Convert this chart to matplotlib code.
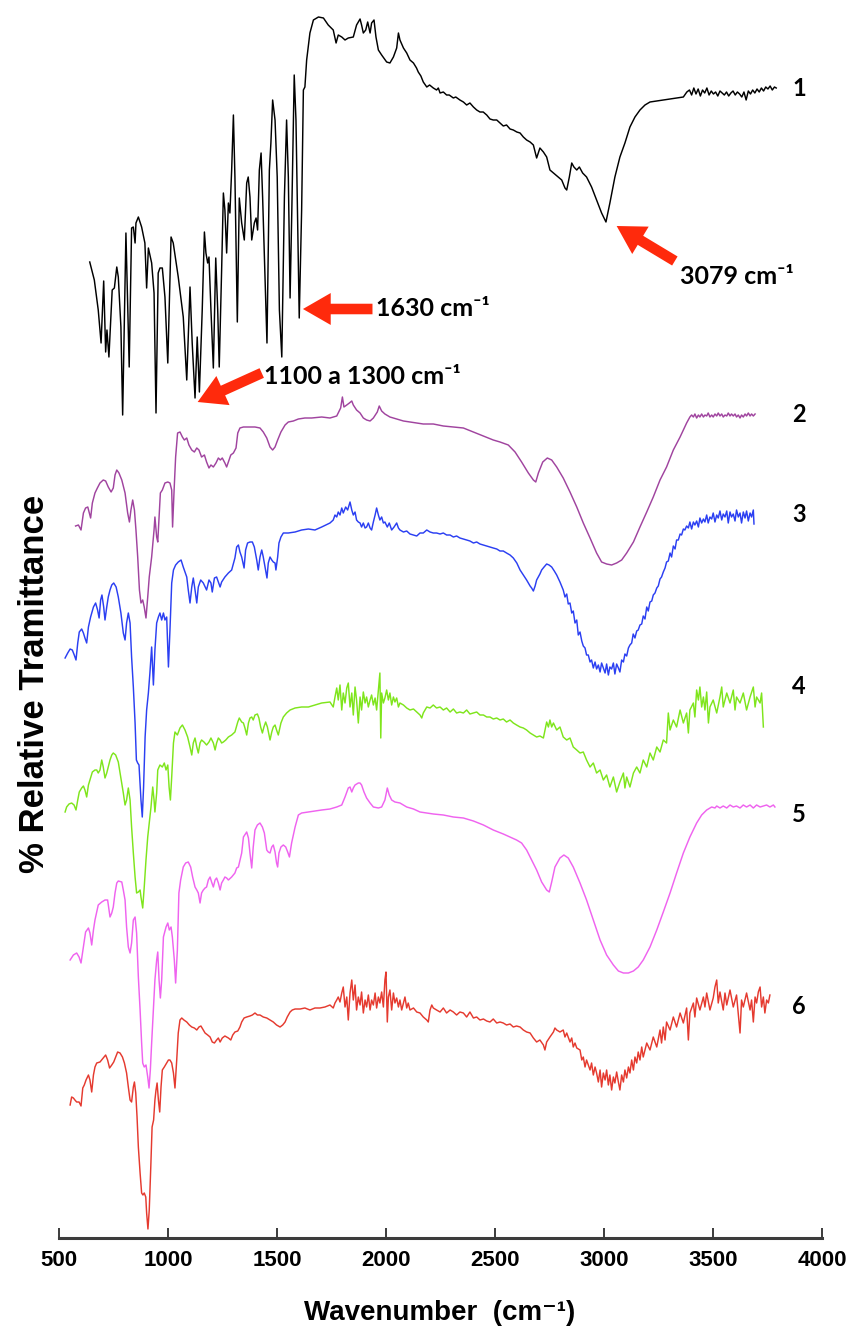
import matplotlib
matplotlib.use("Agg")
import matplotlib.pyplot as plt
from matplotlib.patches import FancyArrowPatch

plt.rcParams['font.family'] = ['Liberation Sans', 'DejaVu Sans']

# ---------------------------------------------------------------- data
x_ticks = [500, 1000, 1500, 2000, 2500, 3000, 3500, 4000]
x_tick_labels = ['500', '1000', '1500', '2000', '2500', '3000', '3500', '4000']
sample_names = ['1', '2', '3', '4', '5', '6']
line_colors = ['#000000', '#a0449f', '#2b3ff2', '#7fe51c', '#ef63ef', '#e53a2f']

# (wavenumber cm-1, stacked relative transmittance, arbitrary units)
spec_1 = [
    (641, 976), (662, 958), (680, 928), (693, 895), (705, 957), (714, 886), (720, 908), (729, 881),
    (744, 948), (754, 950), (765, 971), (772, 961), (784, 911), (792, 823), (807, 1005), (822, 871),
    (833, 1010), (841, 1011), (849, 995), (853, 1015), (864, 1021), (879, 1011), (894, 995), (902, 950),
    (910, 990), (925, 975), (936, 945), (945, 825), (955, 965), (963, 970), (974, 970), (986, 941),
    (999, 875), (1014, 1001), (1024, 995), (1047, 961), (1070, 921), (1086, 858), (1101, 951), (1111, 895),
    (1124, 840), (1134, 901), (1144, 846), (1157, 928), (1167, 1006), (1174, 985), (1182, 975), (1188, 981),
    (1197, 928), (1208, 870), (1219, 980), (1228, 928), (1235, 871), (1246, 968), (1254, 1045), (1261, 1028),
    (1269, 985), (1277, 1035), (1284, 1025), (1292, 1068), (1300, 1123), (1307, 1061), (1318, 916), (1327, 1040),
    (1338, 1015), (1350, 998), (1361, 1055), (1368, 1061), (1376, 1041), (1384, 998), (1396, 1015), (1404, 1020),
    (1411, 1008), (1419, 1068), (1427, 1085), (1434, 1041), (1445, 961), (1454, 895), (1465, 1068), (1472, 1095),
    (1480, 1138), (1491, 1118), (1501, 1061), (1511, 928), (1522, 881), (1534, 1041), (1544, 1118), (1552, 1061),
    (1560, 940), (1568, 1028), (1579, 1163), (1587, 1118), (1595, 1011), (1602, 920), (1613, 1028), (1621, 1148),
    (1628, 1151), (1636, 1178), (1651, 1205), (1667, 1218), (1690, 1221), (1713, 1220), (1735, 1213), (1758, 1208),
    (1771, 1195), (1781, 1203), (1797, 1201), (1812, 1198), (1827, 1200), (1850, 1201), (1865, 1213), (1881, 1219),
    (1888, 1213), (1896, 1205), (1907, 1208), (1916, 1216), (1927, 1205), (1934, 1215), (1945, 1218), (1954, 1201),
    (1965, 1188), (1980, 1183), (2003, 1176), (2018, 1175), (2034, 1181), (2049, 1190), (2057, 1205), (2064, 1198),
    (2080, 1190), (2095, 1185), (2110, 1178), (2126, 1175), (2140, 1170), (2148, 1166), (2160, 1162), (2171, 1156),
    (2187, 1151), (2200, 1153), (2217, 1150), (2232, 1148), (2240, 1150), (2248, 1145), (2263, 1146), (2278, 1143),
    (2290, 1143), (2309, 1140), (2320, 1141), (2339, 1138), (2355, 1136), (2370, 1133), (2385, 1135), (2401, 1131),
    (2416, 1128), (2431, 1126), (2446, 1126), (2462, 1123), (2477, 1119), (2492, 1118), (2508, 1118), (2523, 1115),
    (2538, 1112), (2553, 1113), (2569, 1109), (2584, 1108), (2600, 1106), (2615, 1105), (2630, 1101), (2645, 1098),
    (2661, 1096), (2676, 1093), (2691, 1080), (2706, 1090), (2722, 1086), (2737, 1081), (2752, 1068), (2768, 1065),
    (2790, 1061), (2806, 1058), (2821, 1050), (2829, 1048), (2841, 1061), (2852, 1075), (2862, 1071), (2875, 1068),
    (2887, 1071), (2902, 1065), (2920, 1061), (2943, 1051), (2966, 1038), (2989, 1025), (3009, 1016), (3027, 1035),
    (3050, 1061), (3073, 1081), (3096, 1095), (3119, 1111), (3142, 1121), (3165, 1128), (3188, 1133), (3211, 1136),
    (3241, 1137), (3272, 1138), (3303, 1139), (3333, 1140), (3364, 1141), (3380, 1146), (3392, 1148), (3402, 1143),
    (3412, 1150), (3422, 1144), (3432, 1149), (3442, 1142), (3452, 1148), (3462, 1145), (3472, 1150), (3482, 1143),
    (3492, 1147), (3502, 1144), (3512, 1146), (3522, 1142), (3532, 1147), (3542, 1145), (3552, 1143), (3562, 1146),
    (3572, 1142), (3582, 1145), (3592, 1147), (3602, 1143), (3612, 1146), (3622, 1144), (3632, 1141), (3642, 1146),
    (3652, 1138), (3662, 1147), (3672, 1144), (3682, 1148), (3692, 1145), (3702, 1149), (3712, 1146), (3722, 1150),
    (3732, 1147), (3742, 1151), (3752, 1149), (3762, 1152), (3772, 1148), (3782, 1151), (3790, 1150),
]

spec_2 = [
    (576, 712), (589, 713), (601, 708), (612, 725), (622, 730), (632, 731), (639, 725), (645, 720),
    (653, 735), (665, 745), (676, 750), (688, 755), (703, 758), (714, 757), (726, 751), (739, 746),
    (749, 750), (757, 763), (765, 768), (775, 765), (788, 758), (803, 745), (815, 725), (823, 716),
    (830, 728), (838, 738), (846, 728), (853, 708), (861, 681), (869, 648), (876, 635), (884, 638),
    (891, 631), (899, 620), (907, 641), (914, 661), (925, 681), (936, 708), (940, 721), (948, 701),
    (953, 696), (959, 721), (965, 745), (974, 748), (986, 755), (999, 756), (1009, 755), (1017, 748),
    (1021, 711), (1028, 748), (1035, 781), (1044, 805), (1055, 806), (1066, 801), (1075, 798), (1086, 800),
    (1096, 793), (1109, 788), (1121, 786), (1132, 790), (1142, 788), (1154, 781), (1167, 783), (1177, 776),
    (1188, 770), (1197, 773), (1208, 771), (1220, 775), (1231, 780), (1240, 778), (1249, 780), (1261, 775),
    (1269, 771), (1277, 776), (1288, 783), (1300, 785), (1312, 790), (1320, 805), (1330, 810), (1346, 811),
    (1369, 811), (1399, 811), (1422, 810), (1437, 806), (1453, 800), (1468, 791), (1480, 788), (1491, 791),
    (1503, 798), (1518, 806), (1537, 813), (1552, 816), (1575, 817), (1598, 819), (1628, 820), (1659, 820),
    (1705, 821), (1743, 820), (1774, 822), (1792, 830), (1800, 841), (1807, 831), (1820, 833), (1832, 835),
    (1843, 837), (1850, 833), (1865, 828), (1881, 825), (1896, 820), (1911, 818), (1927, 817), (1942, 820),
    (1960, 826), (1969, 832), (1980, 827), (1995, 824), (2018, 821), (2049, 819), (2080, 817), (2110, 816),
    (2141, 815), (2171, 814), (2217, 814), (2263, 812), (2309, 811), (2355, 810), (2401, 806), (2447, 802),
    (2492, 798), (2523, 796), (2561, 793), (2592, 786), (2622, 776), (2653, 765), (2676, 758), (2687, 756),
    (2699, 765), (2719, 776), (2740, 780), (2760, 778), (2783, 771), (2813, 760), (2844, 746), (2875, 731),
    (2905, 715), (2936, 700), (2966, 685), (2989, 676), (3012, 674), (3035, 673), (3058, 675), (3081, 678),
    (3104, 685), (3135, 696), (3165, 711), (3196, 726), (3226, 741), (3257, 758), (3287, 771), (3318, 788),
    (3349, 801), (3379, 815), (3394, 821), (3402, 823), (3410, 821), (3417, 824), (3425, 820), (3433, 823),
    (3440, 821), (3448, 824), (3456, 821), (3463, 823), (3471, 822), (3478, 825), (3486, 821), (3494, 823),
    (3501, 821), (3509, 824), (3517, 822), (3524, 825), (3532, 822), (3540, 824), (3547, 821), (3555, 823),
    (3563, 822), (3570, 825), (3578, 822), (3585, 824), (3593, 822), (3601, 824), (3608, 821), (3616, 823),
    (3624, 820), (3631, 823), (3639, 821), (3647, 824), (3654, 822), (3662, 825), (3670, 822), (3677, 824),
    (3685, 822), (3693, 824),
]

spec_3 = [
    (528, 580), (540, 585), (551, 589), (561, 588), (570, 583), (578, 578), (586, 595), (593, 606),
    (604, 609), (612, 605), (619, 600), (627, 595), (635, 611), (645, 621), (658, 631), (668, 635),
    (677, 628), (684, 620), (691, 638), (697, 643), (705, 631), (711, 618), (719, 631), (726, 641),
    (734, 648), (742, 653), (751, 655), (762, 651), (772, 641), (784, 625), (795, 605), (803, 598),
    (810, 615), (818, 625), (826, 615), (833, 581), (841, 551), (849, 515), (855, 478), (861, 475),
    (867, 473), (876, 438), (882, 421), (888, 451), (895, 501), (902, 528), (910, 545), (917, 565),
    (925, 591), (933, 553), (940, 588), (948, 615), (956, 621), (963, 625), (971, 618), (979, 625),
    (986, 618), (994, 621), (1002, 571), (1009, 608), (1017, 655), (1025, 668), (1035, 673), (1047, 676),
    (1060, 678), (1070, 671), (1078, 666), (1086, 661), (1093, 648), (1101, 635), (1109, 651), (1116, 660),
    (1124, 648), (1132, 635), (1139, 651), (1150, 658), (1162, 655), (1177, 648), (1188, 658), (1197, 655),
    (1203, 646), (1213, 660), (1223, 661), (1231, 656), (1239, 651), (1246, 656), (1261, 661), (1277, 665),
    (1292, 668), (1307, 680), (1315, 691), (1323, 693), (1330, 686), (1338, 681), (1349, 670), (1356, 688),
    (1365, 695), (1376, 696), (1387, 696), (1396, 691), (1407, 678), (1414, 668), (1422, 681), (1430, 688),
    (1437, 681), (1445, 671), (1454, 660), (1460, 675), (1468, 681), (1476, 678), (1483, 676), (1491, 675),
    (1495, 668), (1503, 681), (1509, 695), (1518, 701), (1529, 705), (1552, 705), (1583, 706), (1613, 708),
    (1644, 709), (1674, 708), (1705, 711), (1743, 715), (1758, 718), (1766, 723), (1774, 721), (1781, 726),
    (1789, 723), (1797, 730), (1804, 725), (1815, 731), (1824, 728), (1835, 736), (1843, 728), (1850, 723),
    (1858, 726), (1865, 718), (1873, 716), (1881, 715), (1888, 711), (1896, 715), (1904, 710), (1911, 711),
    (1919, 715), (1927, 710), (1934, 708), (1942, 716), (1950, 723), (1957, 730), (1965, 723), (1972, 718),
    (1980, 721), (1988, 715), (1995, 716), (2006, 711), (2015, 715), (2026, 708), (2037, 711), (2049, 715),
    (2057, 710), (2064, 708), (2080, 706), (2095, 707), (2110, 704), (2126, 703), (2141, 702), (2156, 705),
    (2171, 705), (2187, 708), (2202, 706), (2217, 705), (2232, 705), (2248, 704), (2263, 705), (2278, 703),
    (2294, 703), (2309, 701), (2324, 702), (2339, 700), (2355, 699), (2370, 698), (2385, 697), (2401, 695),
    (2416, 696), (2431, 694), (2446, 693), (2462, 692), (2477, 691), (2492, 690), (2508, 689), (2523, 687),
    (2538, 687), (2553, 685), (2569, 683), (2584, 680), (2600, 675), (2615, 668), (2630, 663), (2645, 658),
    (2661, 652), (2668, 650), (2676, 647), (2684, 652), (2691, 658), (2706, 664), (2714, 668), (2725, 671),
    (2737, 674), (2748, 673), (2760, 671), (2772, 667), (2783, 663), (2798, 656), (2813, 648), (2821, 641),
    (2829, 644), (2836, 634), (2844, 635), (2852, 625), (2859, 627), (2867, 615), (2875, 618), (2882, 603),
    (2890, 606), (2898, 597), (2905, 592), (2913, 590), (2920, 583), (2928, 583), (2936, 576), (2943, 578),
    (2951, 570), (2959, 576), (2966, 569), (2974, 573), (2982, 566), (2989, 575), (2997, 570), (3005, 565),
    (3012, 574), (3020, 563), (3027, 571), (3035, 569), (3043, 575), (3050, 564), (3058, 574), (3066, 570),
    (3073, 566), (3081, 578), (3089, 576), (3096, 584), (3104, 582), (3112, 590), (3119, 593), (3127, 595),
    (3134, 604), (3142, 600), (3150, 607), (3157, 608), (3165, 613), (3173, 614), (3180, 622), (3188, 619),
    (3196, 631), (3203, 627), (3211, 636), (3219, 637), (3226, 643), (3234, 645), (3242, 650), (3249, 652),
    (3257, 659), (3264, 661), (3272, 666), (3280, 670), (3287, 676), (3295, 677), (3303, 685), (3310, 681),
    (3318, 692), (3326, 689), (3333, 698), (3341, 698), (3349, 704), (3356, 703), (3364, 709), (3371, 708),
    (3379, 712), (3387, 710), (3394, 716), (3402, 709), (3410, 716), (3417, 713), (3425, 717), (3433, 711),
    (3440, 720), (3448, 715), (3456, 719), (3463, 716), (3471, 723), (3478, 715), (3486, 721), (3494, 719),
    (3501, 725), (3509, 716), (3517, 723), (3524, 720), (3532, 727), (3540, 718), (3547, 724), (3555, 721),
    (3563, 727), (3570, 715), (3578, 726), (3585, 721), (3593, 724), (3601, 717), (3608, 728), (3616, 721),
    (3624, 725), (3631, 715), (3639, 726), (3647, 720), (3654, 727), (3662, 717), (3670, 725), (3677, 721),
    (3685, 728), (3688, 714),
]

spec_4 = [
    (528, 426), (535, 431), (546, 434), (558, 435), (569, 433), (578, 428), (586, 438), (593, 446),
    (604, 450), (612, 452), (619, 448), (627, 441), (635, 453), (646, 461), (653, 466), (665, 468),
    (673, 468), (680, 465), (688, 468), (696, 478), (703, 471), (711, 460), (719, 465), (726, 471),
    (734, 478), (742, 483), (749, 485), (760, 483), (772, 476), (783, 461), (795, 445), (803, 433),
    (810, 438), (818, 450), (826, 438), (833, 411), (841, 385), (849, 361), (856, 345), (864, 346),
    (872, 348), (876, 341), (884, 330), (891, 351), (899, 378), (907, 401), (914, 415), (922, 431),
    (930, 451), (936, 438), (940, 426), (948, 445), (953, 468), (963, 473), (974, 471), (983, 475),
    (991, 468), (999, 473), (1005, 451), (1011, 438), (1017, 461), (1025, 495), (1032, 506), (1043, 503),
    (1055, 510), (1066, 513), (1078, 508), (1090, 501), (1101, 491), (1109, 483), (1116, 495), (1124, 500),
    (1132, 491), (1139, 485), (1147, 495), (1154, 498), (1165, 496), (1177, 493), (1188, 496), (1197, 500),
    (1208, 495), (1216, 488), (1223, 495), (1231, 500), (1239, 498), (1246, 495), (1254, 496), (1265, 498),
    (1277, 501), (1292, 503), (1307, 506), (1320, 516), (1327, 520), (1338, 516), (1346, 515), (1353, 510),
    (1361, 503), (1369, 515), (1376, 520), (1384, 521), (1391, 518), (1399, 523), (1410, 524), (1417, 520),
    (1425, 511), (1433, 505), (1440, 511), (1448, 516), (1456, 511), (1468, 498), (1476, 506), (1483, 511),
    (1491, 513), (1498, 508), (1506, 503), (1518, 515), (1529, 521), (1544, 525), (1560, 528), (1583, 530),
    (1613, 531), (1644, 531), (1674, 533), (1705, 535), (1743, 536), (1758, 531), (1766, 541), (1774, 550),
    (1781, 538), (1789, 553), (1797, 528), (1804, 545), (1812, 535), (1820, 550), (1827, 555), (1835, 531),
    (1843, 545), (1850, 523), (1858, 551), (1865, 538), (1873, 515), (1881, 541), (1888, 528), (1896, 546),
    (1904, 535), (1911, 541), (1919, 531), (1927, 538), (1934, 543), (1942, 533), (1950, 540), (1957, 528),
    (1965, 548), (1972, 565), (1976, 500), (1980, 545), (1988, 535), (1995, 540), (2003, 548), (2011, 538),
    (2018, 545), (2026, 533), (2034, 541), (2041, 536), (2049, 540), (2057, 531), (2064, 535), (2080, 533),
    (2095, 530), (2110, 528), (2126, 529), (2141, 526), (2156, 523), (2164, 520), (2171, 525), (2187, 531),
    (2202, 530), (2217, 533), (2232, 530), (2248, 531), (2263, 528), (2278, 530), (2294, 526), (2309, 529),
    (2324, 525), (2339, 526), (2355, 525), (2370, 528), (2385, 524), (2401, 525), (2416, 526), (2431, 523),
    (2447, 523), (2462, 521), (2477, 521), (2492, 519), (2508, 520), (2523, 518), (2538, 519), (2553, 516),
    (2569, 518), (2584, 515), (2599, 513), (2615, 511), (2630, 510), (2645, 508), (2661, 505), (2676, 503),
    (2691, 501), (2706, 502), (2722, 500), (2737, 516), (2745, 511), (2752, 518), (2760, 511), (2768, 515),
    (2783, 508), (2798, 511), (2813, 501), (2829, 498), (2844, 500), (2859, 491), (2875, 488), (2890, 485),
    (2905, 486), (2920, 478), (2936, 471), (2951, 475), (2966, 465), (2982, 468), (2997, 458), (3012, 463),
    (3027, 451), (3043, 461), (3058, 446), (3073, 456), (3089, 465), (3096, 450), (3104, 461), (3119, 451),
    (3135, 465), (3150, 471), (3165, 465), (3180, 478), (3196, 471), (3211, 485), (3226, 478), (3242, 491),
    (3257, 486), (3272, 498), (3287, 495), (3295, 525), (3303, 508), (3318, 518), (3333, 511), (3349, 528),
    (3364, 515), (3379, 525), (3387, 505), (3394, 528), (3410, 535), (3417, 521), (3425, 548), (3433, 538),
    (3440, 551), (3448, 531), (3456, 541), (3463, 528), (3471, 546), (3479, 515), (3486, 531), (3501, 538),
    (3517, 525), (3532, 541), (3540, 551), (3547, 531), (3563, 545), (3578, 535), (3593, 548), (3601, 528),
    (3608, 541), (3624, 535), (3639, 545), (3654, 528), (3670, 541), (3685, 551), (3693, 531), (3700, 541),
    (3716, 535), (3723, 545), (3731, 511),
]

spec_5 = [
    (551, 278), (566, 283), (581, 285), (592, 281), (601, 275), (612, 291), (622, 306), (635, 310),
    (642, 305), (650, 293), (658, 308), (665, 318), (673, 326), (680, 333), (696, 336), (711, 338),
    (723, 338), (734, 321), (742, 325), (749, 331), (757, 345), (765, 355), (772, 357), (788, 356),
    (795, 348), (803, 338), (810, 311), (818, 291), (826, 285), (833, 295), (841, 318), (849, 321),
    (856, 305), (864, 261), (872, 228), (879, 195), (884, 175), (891, 171), (899, 173), (907, 161),
    (913, 150), (919, 168), (925, 195), (933, 228), (940, 258), (948, 278), (953, 286), (959, 258),
    (965, 240), (971, 258), (979, 301), (991, 311), (999, 315), (1006, 308), (1014, 311), (1020, 301),
    (1029, 278), (1035, 255), (1043, 288), (1050, 345), (1058, 358), (1070, 371), (1081, 375), (1093, 376),
    (1104, 371), (1113, 361), (1124, 351), (1132, 348), (1139, 345), (1147, 335), (1154, 345), (1162, 348),
    (1170, 350), (1177, 351), (1185, 358), (1193, 361), (1200, 356), (1208, 351), (1216, 358), (1223, 360),
    (1231, 355), (1239, 348), (1246, 355), (1254, 358), (1261, 361), (1269, 360), (1277, 358), (1292, 361),
    (1307, 365), (1315, 370), (1323, 371), (1338, 385), (1346, 401), (1361, 406), (1369, 400), (1376, 385),
    (1384, 370), (1391, 391), (1399, 408), (1410, 413), (1422, 415), (1433, 411), (1442, 405), (1453, 388),
    (1460, 386), (1468, 385), (1476, 391), (1483, 393), (1491, 386), (1498, 375), (1503, 371), (1509, 385),
    (1518, 391), (1529, 393), (1540, 391), (1549, 386), (1557, 381), (1567, 395), (1583, 411), (1598, 423),
    (1613, 425), (1644, 426), (1674, 427), (1705, 428), (1743, 429), (1774, 431), (1797, 433), (1812, 441),
    (1827, 450), (1835, 451), (1843, 446), (1850, 450), (1858, 453), (1873, 455), (1881, 455), (1888, 453),
    (1899, 446), (1911, 440), (1927, 435), (1942, 431), (1965, 430), (1980, 431), (1995, 438), (2006, 450),
    (2015, 443), (2026, 438), (2041, 436), (2064, 435), (2095, 431), (2126, 429), (2156, 426), (2187, 425),
    (2217, 424), (2263, 423), (2309, 421), (2355, 420), (2401, 417), (2447, 413), (2492, 408), (2538, 404),
    (2569, 401), (2599, 398), (2622, 395), (2645, 388), (2668, 378), (2691, 368), (2714, 356), (2737, 348),
    (2749, 346), (2760, 356), (2775, 371), (2798, 380), (2816, 383), (2836, 380), (2859, 371), (2890, 355),
    (2920, 338), (2951, 318), (2982, 298), (3012, 283), (3043, 273), (3066, 267), (3089, 265), (3112, 265),
    (3135, 267), (3157, 271), (3180, 278), (3211, 291), (3242, 308), (3272, 326), (3303, 345), (3333, 365),
    (3364, 385), (3394, 401), (3425, 415), (3448, 423), (3471, 428), (3494, 431), (3509, 430), (3517, 432),
    (3532, 430), (3547, 432), (3563, 430), (3578, 433), (3593, 431), (3608, 432), (3624, 430), (3639, 433),
    (3654, 431), (3670, 433), (3685, 430), (3700, 433), (3716, 431), (3731, 432), (3746, 433), (3761, 431),
    (3777, 433), (3784, 431),
]

spec_6 = [
    (551, 133), (558, 141), (566, 140), (573, 138), (581, 136), (592, 136), (601, 132), (609, 150),
    (616, 153), (624, 158), (635, 163), (642, 158), (650, 146), (658, 163), (665, 171), (673, 175),
    (688, 176), (703, 180), (714, 183), (723, 178), (732, 170), (742, 173), (751, 176), (760, 181),
    (769, 186), (780, 185), (791, 181), (800, 175), (810, 165), (818, 151), (826, 138), (833, 136),
    (841, 151), (846, 156), (852, 145), (858, 121), (864, 91), (872, 65), (879, 45), (885, 43),
    (891, 45), (898, 41), (902, 25), (908, 9), (914, 28), (921, 71), (927, 111), (934, 118),
    (940, 138), (945, 148), (950, 155), (956, 138), (962, 126), (968, 151), (974, 168), (983, 171),
    (994, 175), (1002, 178), (1009, 178), (1017, 175), (1025, 165), (1032, 150), (1040, 178), (1047, 205),
    (1055, 218), (1063, 220), (1073, 218), (1086, 216), (1098, 213), (1109, 211), (1121, 210), (1132, 208),
    (1142, 211), (1151, 212), (1162, 208), (1170, 205), (1182, 203), (1193, 201), (1203, 196), (1213, 195),
    (1223, 198), (1231, 200), (1239, 196), (1249, 200), (1261, 202), (1269, 201), (1277, 200), (1288, 198),
    (1297, 203), (1307, 206), (1320, 207), (1330, 211), (1338, 216), (1349, 220), (1361, 221), (1376, 222),
    (1387, 223), (1399, 225), (1410, 223), (1422, 223), (1437, 221), (1453, 220), (1468, 218), (1483, 216),
    (1498, 213), (1514, 211), (1526, 213), (1537, 216), (1547, 221), (1560, 226), (1570, 228), (1583, 229),
    (1606, 229), (1628, 230), (1651, 228), (1674, 230), (1697, 230), (1720, 231), (1743, 233), (1758, 230),
    (1766, 235), (1774, 238), (1781, 241), (1789, 236), (1797, 245), (1804, 251), (1812, 231), (1820, 241),
    (1827, 218), (1835, 245), (1843, 258), (1850, 238), (1858, 253), (1865, 228), (1873, 241), (1881, 233),
    (1888, 246), (1896, 225), (1904, 238), (1911, 231), (1919, 243), (1927, 228), (1934, 238), (1942, 233),
    (1950, 245), (1957, 230), (1965, 241), (1972, 235), (1980, 246), (1988, 231), (1995, 258), (2000, 266),
    (2006, 216), (2011, 241), (2018, 248), (2026, 228), (2034, 245), (2041, 235), (2049, 240), (2057, 231),
    (2064, 238), (2072, 228), (2080, 235), (2087, 241), (2095, 230), (2102, 235), (2110, 228), (2126, 230),
    (2141, 226), (2156, 225), (2171, 221), (2187, 218), (2194, 216), (2202, 228), (2210, 233), (2217, 230),
    (2232, 228), (2248, 226), (2263, 230), (2278, 225), (2294, 228), (2309, 226), (2324, 223), (2339, 226),
    (2355, 225), (2370, 221), (2385, 226), (2401, 220), (2416, 221), (2431, 218), (2447, 219), (2462, 217),
    (2477, 216), (2492, 219), (2508, 215), (2523, 216), (2538, 215), (2553, 213), (2569, 214), (2584, 211),
    (2599, 212), (2615, 211), (2630, 208), (2645, 206), (2661, 205), (2676, 200), (2691, 196), (2706, 198),
    (2722, 193), (2729, 188), (2737, 196), (2752, 201), (2768, 206), (2775, 210), (2783, 208), (2798, 206),
    (2813, 208), (2821, 201), (2829, 205), (2844, 196), (2852, 200), (2859, 191), (2867, 195), (2875, 190),
    (2890, 188), (2898, 178), (2905, 181), (2913, 171), (2920, 178), (2936, 168), (2943, 175), (2951, 163),
    (2959, 171), (2966, 165), (2974, 156), (2982, 168), (2989, 151), (2997, 165), (3005, 158), (3012, 168),
    (3020, 153), (3027, 163), (3035, 148), (3043, 161), (3050, 155), (3058, 166), (3066, 156), (3073, 148),
    (3081, 163), (3089, 156), (3096, 168), (3104, 160), (3112, 171), (3119, 165), (3127, 178), (3135, 168),
    (3142, 181), (3150, 175), (3157, 186), (3165, 178), (3173, 191), (3180, 181), (3196, 195), (3211, 188),
    (3226, 201), (3242, 191), (3257, 208), (3264, 195), (3272, 211), (3280, 198), (3287, 216), (3303, 208),
    (3318, 221), (3333, 211), (3349, 225), (3364, 215), (3379, 230), (3387, 198), (3394, 225), (3410, 235),
    (3417, 221), (3425, 240), (3440, 228), (3456, 241), (3463, 231), (3471, 245), (3486, 228), (3501, 240),
    (3509, 251), (3517, 258), (3524, 235), (3532, 246), (3547, 228), (3555, 245), (3563, 233), (3578, 248),
    (3593, 231), (3608, 243), (3624, 205), (3631, 238), (3639, 231), (3654, 245), (3670, 228), (3677, 238),
    (3685, 216), (3693, 241), (3700, 235), (3708, 246), (3716, 251), (3723, 231), (3731, 241), (3738, 225),
    (3746, 238), (3754, 235), (3761, 243),
]

spectra = [spec_1, spec_2, spec_3, spec_4, spec_5, spec_6]

# band annotations: text, arrow tip, arrow tail, text anchor (data coords)
band_notes = [
    ('1630 cm\u207b\u00b9', (1619, 929), (1938, 929), (1954, 929)),
    ('3079 cm\u207b\u00b9', (3058, 1012), (3325, 977), (3349, 962)),
    ('1100 a 1300 cm\u207b\u00b9', (1136, 836), (1430, 865), (1442, 861)),
]

# ---------------------------------------------------------------- figure
fig = plt.figure(figsize=(8.5, 13.3), dpi=100)
ax = fig.add_axes([59 / 850, 92 / 1330, 763 / 850, 1238 / 1330])
ax.set_xlim(500, 4000)
ax.set_ylim(0, 1238)

for spec, color in zip(spectra, line_colors):
    wn = [p[0] for p in spec]
    tr = [p[1] for p in spec]
    ax.plot(wn, tr, color=color, lw=1.05, solid_joinstyle='round')

for side in ('left', 'top', 'right'):
    ax.spines[side].set_visible(False)
ax.spines['bottom'].set_linewidth(2.2)
ax.spines['bottom'].set_color('#3c3c3c')
ax.set_yticks([])
ax.set_xticks(x_ticks, labels=x_tick_labels)
ax.tick_params(axis='x', direction='in', length=7, width=1.4, color='#3c3c3c',
               pad=9, labelsize=16)
for lab in ax.get_xticklabels():
    lab.set_fontweight('bold')

label_font = ['Lato', 'DejaVu Sans']
label_heights = [1150, 824, 723, 551, 424, 231]
for name, h in zip(sample_names, label_heights):
    ax.text(3894, h, name, ha='center', va='center', fontsize=17,
            fontweight='bold', family=label_font)

arrow_color = '#ff2a0c'
for text, tip, tail, anchor in band_notes:
    ax.add_patch(FancyArrowPatch(
        posA=tail, posB=tip,
        arrowstyle='simple,head_length=1.0,head_width=1.15,tail_width=0.38',
        mutation_scale=20, color=arrow_color, shrinkA=0, shrinkB=0, lw=0))
    ax.text(anchor[0], anchor[1], text, ha='left', va='center', fontsize=18,
            fontweight='bold', family=label_font)

fig.text(35 / 850, 1 - 684 / 1330, '% Relative Tramittance', rotation=90,
         ha='center', va='center', fontsize=25, fontweight='bold')
fig.text(440 / 850, 1 - 1313 / 1330, 'Wavenumber  (cm\u207b\u00b9)',
         ha='center', va='center', fontsize=20, fontweight='bold')

fig.savefig('out.png', dpi=100)
